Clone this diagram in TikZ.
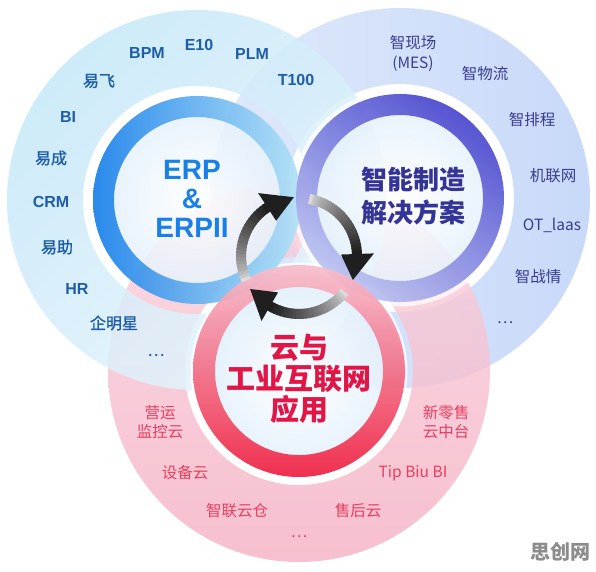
\documentclass[tikz,border=0pt]{standalone}
\usepackage{fontspec}
\setmainfont{Liberation Sans}
\newfontfamily\cjk{Noto Sans CJK SC}
\newfontfamily\cjkm[FakeBold=1.2]{Noto Sans CJK SC}
\usetikzlibrary{calc}

\definecolor{bigBlueA}{RGB}{198,232,249}
\definecolor{bigBlueB}{RGB}{232,245,252}
\definecolor{bigPurA}{RGB}{198,216,249}
\definecolor{bigPurB}{RGB}{222,232,251}
\definecolor{bigPinkA}{RGB}{245,176,195}
\definecolor{bigPinkB}{RGB}{250,210,221}
\definecolor{ringBlueA}{RGB}{24,128,234}
\definecolor{ringBlueM}{RGB}{60,160,238}
\definecolor{ringBlueB}{RGB}{178,226,247}
\definecolor{ringPurA}{RGB}{72,70,206}
\definecolor{ringPurB}{RGB}{188,196,242}
\definecolor{ringPinkA}{RGB}{238,30,64}
\definecolor{ringPinkM}{RGB}{242,96,122}
\definecolor{ringPinkB}{RGB}{248,190,204}
\definecolor{diskC}{RGB}{230,242,252}
\definecolor{txtBlue}{RGB}{30,94,168}
\definecolor{txtBlueC}{RGB}{24,128,232}
\definecolor{txtPur}{RGB}{58,60,148}
\definecolor{txtPurC}{RGB}{52,52,150}
\definecolor{txtPink}{RGB}{232,62,98}
\definecolor{txtPinkC}{RGB}{226,22,70}

\newcommand\cycarrow[3]{%
  \foreach \i in {0,...,23}{%
    \pgfmathsetmacro\aa{#1+(#2-#1)*\i/24}%
    \pgfmathsetmacro\ab{#1+(#2-#1)*(\i+1.4)/24}%
    \pgfmathsetmacro\gv{int(14+74*(\i/23)^0.7)}%
    \draw[line width=10pt, draw=black!\gv] ($(cyc)+(-\aa:58)$) arc[start angle=-\aa, end angle=-\ab, radius=58];
  }%
  \fill[black!88] ($(cyc)+(-#2:42)$) -- ($(cyc)+(-#3:59)$) -- ($(cyc)+(-#2:75)$) -- cycle;
}

\tikzset{
  blbl/.style={text=txtBlue, inner sep=0pt, font=\fontsize{16}{18}\selectfont\bfseries},
  blcn/.style={text=txtBlue, inner sep=0pt, font=\cjkm\fontsize{16}{18}\selectfont},
  plbl/.style={text=txtPur, inner sep=0pt, align=center, font=\cjk\fontsize{15.5}{20}\selectfont},
  klbl/.style={text=txtPink, inner sep=0pt, align=center, font=\cjk\fontsize{15.5}{19}\selectfont},
}

\begin{document}
\begin{tikzpicture}[x=1pt,y=-1pt]
\useasboundingbox (0,0) rectangle (596,571);
\fill[white] (0,0) rectangle (596,571);

\coordinate (cB) at (197,200);
\coordinate (cP) at (400,198);
\coordinate (cK) at (299,371);
\coordinate (cyc) at (299,256);

% big annuli
\shade[even odd rule, left color=bigPurB, right color=bigPurA, opacity=0.95] (cP) circle (190) (cP) circle (114);
\shade[even odd rule, top color=bigPinkB, bottom color=bigPinkA, opacity=0.8] (cK) circle (191) (cK) circle (114);
\shade[even odd rule, top color=bigBlueA, bottom color=bigBlueB, shading angle=45, opacity=0.86] (cB) circle (190) (cB) circle (114);

% inner disks
\shade[inner color=white, outer color=diskC, opacity=0.85] (cB) circle (84);
\shade[inner color=white, outer color=diskC, opacity=0.85] (cP) circle (84);
\shade[inner color=white, outer color=diskC, opacity=0.85] (cK) circle (84);

% white halos
\draw[white, line width=5pt, opacity=0.75] (cP) circle (106);
\draw[white, line width=5pt, opacity=0.75] (cK) circle (106);

% rings
\shade[even odd rule, top color=ringBlueA, middle color=ringBlueM, bottom color=ringBlueB, shading angle=90, opacity=0.92] (cB) circle (104) (cB) circle (83);
\shade[even odd rule, top color=ringPurA, bottom color=ringPurB, shading angle=-35, opacity=0.92] (cP) circle (104) (cP) circle (83);
\shade[even odd rule, top color=ringPinkB, middle color=ringPinkM, bottom color=ringPinkA, opacity=0.92] (cK) circle (106) (cK) circle (84);

% cycle arrows
\cycarrow{205}{123}{95}
\cycarrow{80}{2}{-24}
\cycarrow{-38}{-120}{-146}

% centre texts
\node[text=txtBlueC, align=center, inner sep=0pt, font=\fontsize{28}{29}\selectfont\bfseries] (erp) at (192,199) {ERP\\\&\\ERPII};
\node[text=txtPurC, align=center, inner sep=0pt, font=\cjk\fontsize{26}{33}\selectfont\bfseries] (imf) at (413,196) {智能制造\\解决方案};
\node[text=txtPinkC, align=center, inner sep=0pt, font=\cjk\fontsize{29}{31}\selectfont\bfseries] (cloud) at (299,379) {云与\\工业互联网\\应用};

% blue labels
\node[blbl] (bpm) at (147,53) {BPM};
\node[blbl] (e10) at (199,45) {E10};
\node[blbl] (plm) at (252,54) {PLM};
\node[blbl] (t100) at (296,80) {T100};
\node[blcn] (yf) at (99,81) {易飞};
\node[blbl] (bi) at (68,117) {BI};
\node[blcn] (yc) at (51,158) {易成};
\node[blbl] (crm) at (51,202) {CRM};
\node[blcn] (yz) at (57,247) {易助};
\node[blbl] (hr) at (77,289) {HR};
\node[blcn] (qmx) at (114,323) {企明星};
\node[blcn] (bdots) at (156,355) {…};

% purple labels
\node[plbl] (mes) at (413,53) {智现场\\(MES)};
\node[plbl] (wl) at (485,74) {智物流};
\node[plbl] (pc) at (532,120) {智排程};
\node[plbl] (jlw) at (553,176) {机联网};
\node[plbl] (ot) at (552,225) {OT\_laas};
\node[plbl] (zq) at (538,277) {智战情};
\node[plbl] (pdots) at (505,323) {…};

% pink labels
\node[klbl] (yy) at (160,422) {营运\\监控云};
\node[klbl] (sb) at (185,473) {设备云};
\node[klbl] (zl) at (237,511) {智联云仓};
\node[klbl] (kdots) at (299,537) {…};
\node[klbl] (sh) at (358,511) {售后云};
\node[klbl] (tip) at (413,473) {Tip Biu BI};
\node[klbl] (xls) at (446,422) {新零售\\云中台};

% watermark
\node[text=black!45, inner sep=0pt, font=\cjk\fontsize{20}{20}\selectfont\bfseries] (wm) at (560,552) {思创网};
\end{tikzpicture}
\end{document}
